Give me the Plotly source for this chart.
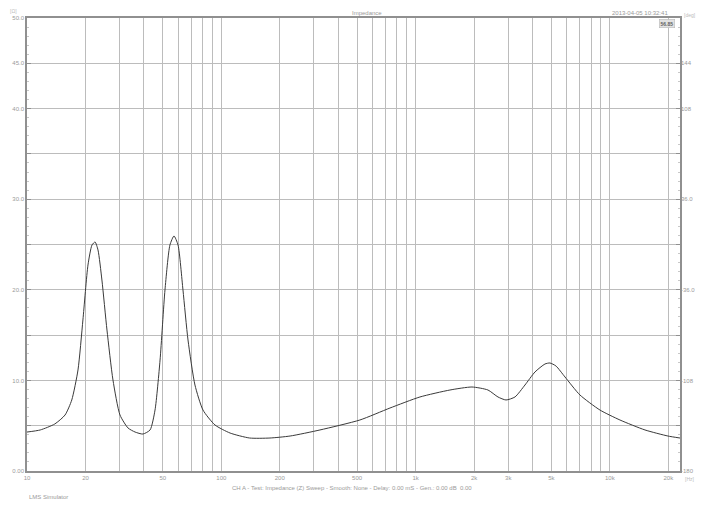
import plotly.graph_objects as go

# ---- data ----
freq_hz = [10, 11.7, 13.9, 15.7, 17.0, 18.3, 19.4, 20.6, 21.6, 22.4, 23.2, 24.3, 25.8,
           27.7, 30.1, 33.1, 36.0, 39.5, 43.0, 45.6, 48.4, 51.3, 54.4, 57.1, 59.9,
           63.5, 67.4, 73.2, 80.5, 92.8, 111, 140, 178, 226, 322, 517, 738, 1053,
           1503, 1951, 2358, 2655, 2920, 3248, 3656, 4117, 4634, 4916, 5279, 5875,
           7015, 8892, 11270, 15160, 19900, 22960]
impedance_ohm = [4.30, 4.53, 5.19, 6.18, 7.84, 11.15, 16.67, 22.74, 24.94, 25.28, 24.39,
                 21.08, 15.56, 10.04, 6.18, 4.75, 4.30, 4.08, 4.53, 6.73, 12.25, 19.98,
                 24.94, 25.94, 24.94, 19.98, 14.46, 9.49, 6.73, 5.08, 4.19, 3.64, 3.64,
                 3.86, 4.53, 5.63, 6.95, 8.17, 8.94, 9.27, 8.94, 8.17, 7.84, 8.17, 9.49,
                 10.93, 11.81, 11.92, 11.59, 10.38, 8.39, 6.73, 5.63, 4.53, 3.86, 3.64]

x_grid = [10, 20, 30, 40, 50, 60, 70, 80, 90, 100, 200, 300, 400, 500, 600, 700, 800, 900,
          1000, 2000, 3000, 4000, 5000, 6000, 7000, 8000, 9000, 10000, 20000]
x_labels = ["10", "20", "", "", "50", "", "", "", "", "100", "200", "", "", "500", "", "", "",
            "", "1k", "2k", "3k", "", "5k", "", "", "", "", "10k", "20k"]
y_grid = [0, 5, 10, 15, 20, 25, 30, 35, 40, 45, 50]
y_labels = ["0.00", "", "10.0", "", "20.0", "", "30.0", "", "40.0", "45.0", "50.0"]
y2_grid = [-180, -144, -108, -72, -36, 0, 36, 72, 108, 144, 180]
y2_labels = ["-180", "", "-108", "", "-36.0", "", "36.0", "", "108", "144", ""]

title_text = "Impedance"
date_text = "2013-04-05 10:32:41"
caption = "CH A - Test: Impedance (Z) Sweep - Smooth: None - Delay: 0.00 mS - Gen.: 0.00 dB  0.00"
footer = "LMS Simulator"

font_col = "#9a9a9a"
grid_col = "#bcbcbc"
frame_col = "#909090"

fig = go.Figure()
fig.add_trace(go.Scatter(x=freq_hz, y=impedance_ohm, mode="lines",
                         line=dict(color="#3a3a3a", width=1.0, shape="spline", smoothing=0.6),
                         showlegend=False, hoverinfo="x+y"))
# invisible trace so the right-hand (phase) axis is drawn
fig.add_trace(go.Scatter(x=[freq_hz[0]], y=[y2_grid[5]], yaxis="y2", mode="markers",
                         marker=dict(opacity=0), showlegend=False, hoverinfo="skip"))

# the page body has an 8px default margin, so the figure is sized/offset for it
fig.update_layout(
    width=697, height=500,
    margin=dict(l=19, r=25, t=10, b=37, autoexpand=False),
    paper_bgcolor="white", plot_bgcolor="white",
    font=dict(family="Liberation Sans, Arial, sans-serif", size=6, color=font_col),
    xaxis=dict(type="log", range=[1, 4.361], tickvals=x_grid, ticktext=x_labels,
               showgrid=True, gridcolor=grid_col, gridwidth=1, automargin=False,
               showline=True, linecolor=frame_col, linewidth=1.5, mirror=True,
               ticks="", tickfont=dict(size=6, color=font_col), zeroline=False),
    yaxis=dict(range=[0, 50], tickvals=y_grid, ticktext=y_labels, automargin=False,
               showgrid=True, gridcolor=grid_col, gridwidth=1,
               showline=True, linecolor=frame_col, linewidth=1.5, mirror=True,
               ticks="inside", ticklen=4, tickcolor=frame_col,
               minor=dict(dtick=1, ticks="inside", ticklen=2, tickcolor="#c8c8c8", showgrid=False),
               tickfont=dict(size=6, color=font_col), zeroline=False),
    yaxis2=dict(range=[-180, 180], overlaying="y", side="right", tickvals=y2_grid,
                ticktext=y2_labels, showgrid=False, zeroline=False, automargin=False,
                ticks="inside", ticklen=4, tickcolor=frame_col,
                minor=dict(dtick=7.2, ticks="inside", ticklen=2, tickcolor="#c8c8c8", showgrid=False),
                tickfont=dict(size=6, color=font_col)),
)

anns = [
    dict(x=0.52, y=1.0, xref="paper", yref="paper", yanchor="middle", yshift=5, text=title_text,
         showarrow=False, font=dict(size=6, color=font_col)),
    dict(x=0.985, y=1.0, xref="paper", yref="paper", yanchor="middle", yshift=5, xanchor="right",
         text=date_text, showarrow=False, font=dict(size=6, color=font_col)),
    dict(x=0.993, y=1.0, xref="paper", yref="paper", xanchor="right", yanchor="top", yshift=-1,
         text="<b>56.85</b>", showarrow=False, font=dict(size=5, color="#606060"), bgcolor="#e2e2e2",
         bordercolor="#b0b0b0", borderwidth=0.5, borderpad=1),
    dict(x=0, y=1.0, xref="paper", yref="paper", xanchor="right", yanchor="bottom", xshift=-8, yshift=2,
         text="[Ω]", showarrow=False, font=dict(size=5, color="#bbbbbb")),
    dict(x=1.0, y=1.0, xref="paper", yref="paper", xanchor="left", yanchor="bottom", xshift=2, yshift=-2,
         text="[deg]", showarrow=False, font=dict(size=5, color="#bbbbbb")),
    dict(x=1.0, y=0, xref="paper", yref="paper", xanchor="left", yanchor="top", xshift=3, yshift=-3,
         text="[Hz]", showarrow=False, font=dict(size=5, color="#bbbbbb")),
    dict(x=0.497, y=0, xref="paper", yref="paper", yanchor="top", yshift=-12, text=caption,
         showarrow=False, font=dict(size=6, color=font_col)),
    dict(x=0, y=0, xref="paper", yref="paper", xanchor="left", yanchor="top", yshift=-21, text=footer,
         showarrow=False, font=dict(size=6, color=font_col)),
]
fig.update_layout(annotations=anns)

fig.write_html("out.html")
